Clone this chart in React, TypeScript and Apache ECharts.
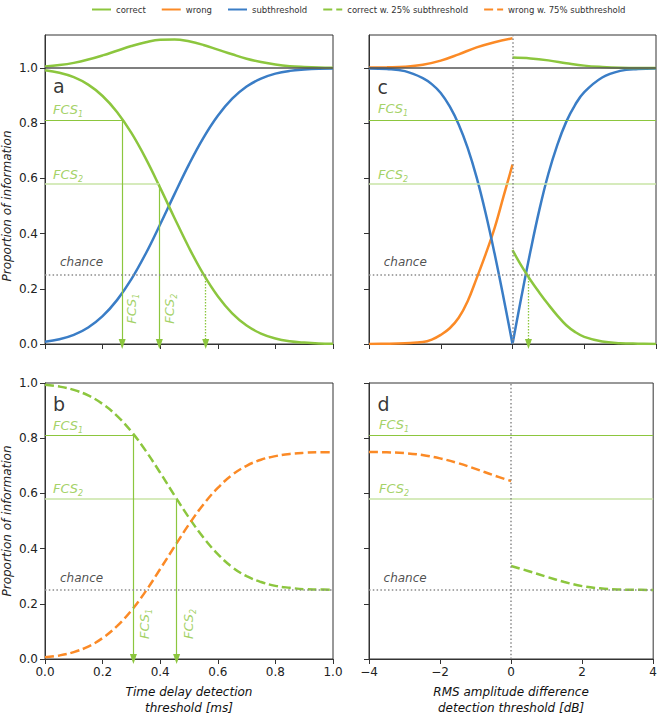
import React, { useEffect, useRef } from 'react';
import * as echarts from 'echarts';

// ---------- data ----------
const tA = [0, 0.05, 0.1, 0.15, 0.2, 0.25, 0.3, 0.35, 0.4, 0.45, 0.5, 0.55, 0.6, 0.65, 0.7, 0.75, 0.8, 0.85, 0.9, 0.95, 1.0];
const correctA = [0.992, 0.983, 0.967, 0.94, 0.899, 0.841, 0.765, 0.672, 0.566, 0.456, 0.349, 0.253, 0.173, 0.111, 0.067, 0.038, 0.02, 0.01, 0.005, 0.002, 0.001];
const subA = [0.008, 0.017, 0.033, 0.06, 0.101, 0.159, 0.235, 0.328, 0.434, 0.544, 0.651, 0.747, 0.827, 0.889, 0.933, 0.962, 0.98, 0.99, 0.995, 0.998, 0.999];
const totalA = [1.006, 1.011, 1.019, 1.031, 1.046, 1.063, 1.08, 1.094, 1.103, 1.104, 1.097, 1.084, 1.067, 1.05, 1.034, 1.022, 1.013, 1.007, 1.004, 1.002, 1.001];
const correct25B = [0.994, 0.987, 0.975, 0.955, 0.924, 0.881, 0.824, 0.754, 0.675, 0.592, 0.512, 0.44, 0.38, 0.333, 0.3, 0.279, 0.265, 0.258, 0.253, 0.252, 0.251];
const wrong75B = [0.006, 0.013, 0.025, 0.045, 0.076, 0.119, 0.176, 0.246, 0.326, 0.408, 0.488, 0.56, 0.62, 0.667, 0.7, 0.722, 0.735, 0.743, 0.747, 0.749, 0.749];

const xcLeft = [-4, -3.5, -3, -2.5, -2.25, -2, -1.75, -1.5, -1.25, -1, -0.75, -0.5, -0.25, 0];
const wrongC = [0, 0.001, 0.003, 0.007, 0.016, 0.033, 0.057, 0.095, 0.155, 0.238, 0.325, 0.42, 0.535, 0.65];
const subCLeft = [0.999, 0.997, 0.989, 0.964, 0.942, 0.91, 0.861, 0.796, 0.711, 0.604, 0.475, 0.328, 0.168, 0];
const xcRight = [0, 0.25, 0.5, 0.75, 1, 1.25, 1.5, 1.75, 2, 2.5, 3, 3.5, 4];
const subCRight = [0, 0.172, 0.336, 0.487, 0.617, 0.722, 0.806, 0.868, 0.913, 0.966, 0.99, 0.997, 0.999];
const correctC = [0.34, 0.283, 0.232, 0.186, 0.143, 0.103, 0.068, 0.043, 0.026, 0.009, 0.003, 0.001, 0];
const xcUpL = [-4, -3.5, -3, -2.5, -2, -1.5, -1, -0.5, 0];
const wrongTotalC = [1.002, 1.003, 1.005, 1.012, 1.027, 1.05, 1.075, 1.094, 1.108];
const xcUpR = [0, 0.5, 1, 1.5, 2, 2.5, 3, 3.5, 4];
const correctTotalC = [1.038, 1.035, 1.028, 1.018, 1.009, 1.004, 1.001, 1.0, 1.0];
const wrong75D = [0.75, 0.749, 0.746, 0.739, 0.727, 0.71, 0.689, 0.666, 0.645];
const correct25D = [0.337, 0.318, 0.298, 0.279, 0.264, 0.256, 0.252, 0.251, 0.25];

const fcsLevels = [0.81, 0.58];
const chanceLevel = 0.25;
const fcsA = [0.268, 0.397];
const chanceA = 0.558;
const fcsB = [0.307, 0.457];
const chanceC = 0.445;

const yTicks = [0, 0.2, 0.4, 0.6, 0.8, 1.0];
const legendNames = ['correct', 'wrong', 'subthreshold', 'correct w. 25% subthreshold', 'wrong w. 75% subthreshold'];

// ---------- styles ----------
const GREEN = '#8cc63e';
const GREEN_LIGHT = '#c8e4a6';
const ORANGE = '#fb8a26';
const BLUE = '#3a7dc6';
const GRAY = '#8a8a8a';
const FONT = 'DejaVu Sans';

const pairs = (xs: number[], ys: number[]) => xs.map((x, i) => [x, ys[i]]);

export default function App() {
  const ref = useRef<HTMLDivElement>(null);
  useEffect(() => {
    const chart = echarts.init(ref.current!, null, { renderer: 'svg' });

    const axisBase = (g: number) => ({
      type: 'value',
      gridIndex: g,
      axisLine: { show: true, onZero: false, lineStyle: { color: '#333', width: 1 } },
      axisTick: { show: true, inside: false, length: 5, lineStyle: { color: '#333', width: 1 } },
      splitLine: { show: false },
    });
    const lbl = { color: '#222', fontSize: 12, fontFamily: FONT, margin: 7 };
    const fmt1 = (v: number) => v.toFixed(1);
    const fmtC = (v: number) => (v < 0 ? '\u2212' + Math.abs(v) : String(v));

    const xAxis = [
      { ...axisBase(0), min: 0, max: 1, interval: 0.2, axisLabel: { show: false } },
      {
        ...axisBase(1), min: 0, max: 1, interval: 0.2, axisLabel: { ...lbl, formatter: fmt1 },
        name: 'Time delay detection\nthreshold [ms]', nameLocation: 'middle', nameGap: 25,
        nameTextStyle: { fontFamily: FONT, fontStyle: 'italic', fontSize: 12, color: '#111', lineHeight: 16 },
      },
      { ...axisBase(2), min: -4, max: 4, interval: 2, axisLabel: { show: false } },
      {
        ...axisBase(3), min: -4, max: 4, interval: 2, axisLabel: { ...lbl, formatter: fmtC },
        name: 'RMS amplitude difference\ndetection threshold [dB]', nameLocation: 'middle', nameGap: 25,
        nameTextStyle: { fontFamily: FONT, fontStyle: 'italic', fontSize: 12, color: '#111', lineHeight: 16 },
      },
    ];
    const yAxis = [
      { ...axisBase(0), min: 0, max: 1.12, interval: 0.2,
        axisTick: { ...axisBase(0).axisTick, customValues: yTicks },
        axisLabel: { ...lbl, formatter: fmt1, customValues: yTicks } },
      { ...axisBase(1), min: 0, max: 1, interval: 0.2, axisLabel: { ...lbl, formatter: fmt1 } },
      { ...axisBase(2), min: 0, max: 1.12, interval: 0.2,
        axisTick: { ...axisBase(2).axisTick, customValues: yTicks },
        axisLabel: { show: false } },
      { ...axisBase(3), min: 0, max: 1, interval: 0.2, axisLabel: { show: false } },
    ];

    const curve = (name: string, g: number, data: number[][], color: string, dashed = false) => ({
      type: 'line', name, xAxisIndex: g, yAxisIndex: g, data, symbol: 'none', showSymbol: false,
      smooth: 0.4, z: 4, silent: true,
      lineStyle: { color, width: 2.5, type: dashed ? [9, 4] : 'solid' },
      itemStyle: { color },
    });

    const chanceStyle = { color: GRAY, width: 1.5, type: [1.5, 2.3] };
    const arrowEnd = (x: number) => ({ coord: [x, 0], symbol: 'triangle', symbolSize: [7, 10], symbolOffset: [0, 0] });
    const fcsArrows = (xs: number[], chanceX: number | null) => {
      const d: any[] = [];
      xs.forEach((x, i) => {
        d.push([{ coord: [0, fcsLevels[i]], lineStyle: { color: i === 0 ? GREEN : GREEN_LIGHT, width: i === 0 ? 1 : 1.5, type: 'solid' } }, { coord: [x, fcsLevels[i]] }]);
      });
      xs.forEach((x, i) => {
        d.push([{ coord: [x, fcsLevels[i]], lineStyle: { color: GREEN, width: 1.2, type: 'solid' } }, arrowEnd(x)]);
      });
      if (chanceX !== null) {
        d.push([{ coord: [chanceX, chanceLevel], lineStyle: { color: GREEN, width: 1.3, type: [1.5, 1.5] } }, arrowEnd(chanceX)]);
      }
      return d;
    };

    const annot = (g: number, data: any[]) => ({
      type: 'line', xAxisIndex: g, yAxisIndex: g, data: [], z: 2, silent: true,
      markLine: {
        silent: true, symbol: 'none', animation: false, label: { show: false },
        emphasis: { disabled: true },
        itemStyle: { color: GREEN },
        data,
      },
    });

    const fcsFull = [
      { yAxis: fcsLevels[0], lineStyle: { color: GREEN, width: 1, type: 'solid' } },
      { yAxis: fcsLevels[1], lineStyle: { color: GREEN_LIGHT, width: 1.5, type: 'solid' } },
    ];
    const chanceLine = { yAxis: chanceLevel, lineStyle: chanceStyle };
    const oneLine = { yAxis: 1, lineStyle: { color: '#555', width: 1.5, type: 'solid' } };
    const zeroLine = { xAxis: 0, lineStyle: chanceStyle };

    const fcsRich = {
      m: { fontSize: 13, fontStyle: 'italic', fontFamily: FONT, color: GREEN, lineHeight: 18, verticalAlign: 'middle' },
      s: { fontSize: 8, fontStyle: 'italic', fontFamily: FONT, color: GREEN, lineHeight: 18, verticalAlign: 'bottom' },
    };
    const fcsTxt = (x: number, y: number, n: number, rotate = 0) => ({
      value: [x, y],
      label: {
        show: true, position: rotate ? 'inside' : 'right', distance: 0, rotate,
        formatter: `{m|FCS}{s|${n}}`, rich: fcsRich,
      },
    });
    const plainTxt = (x: number, y: number, text: string, size: number, italic: boolean, color: string) => ({
      value: [x, y],
      label: {
        show: true, position: 'right', distance: 0, formatter: text,
        fontSize: size, fontStyle: italic ? 'italic' : 'normal', fontFamily: FONT, color,
      },
    });
    const labels = (g: number, data: any[]) => ({
      type: 'scatter', xAxisIndex: g, yAxisIndex: g, symbolSize: 0, silent: true, z: 6,
      itemStyle: { color: 'transparent' }, data,
    });

    const series: any[] = [
      // panel a
      annot(0, [...fcsArrows(fcsA, chanceA), chanceLine, oneLine]),
      curve('subthreshold', 0, pairs(tA, subA), BLUE),
      curve('correct', 0, pairs(tA, correctA), GREEN),
      curve('correct', 0, pairs(tA, totalA), GREEN),
      labels(0, [
        plainTxt(0.028, 0.934, 'a', 19, false, '#000'),
        fcsTxt(0.028, 0.849, 1), fcsTxt(0.028, 0.615, 2),
        plainTxt(0.052, 0.297, 'chance', 12, true, '#222'),
        fcsTxt(fcsA[0] + 0.033, 0.128, 1, 90), fcsTxt(fcsA[1] + 0.037, 0.128, 2, 90),
      ]),
      // panel b
      annot(1, [...fcsArrows(fcsB, null), chanceLine]),
      curve('correct w. 25% subthreshold', 1, pairs(tA, correct25B), GREEN, true),
      curve('wrong w. 75% subthreshold', 1, pairs(tA, wrong75B), ORANGE, true),
      labels(1, [
        plainTxt(0.028, 0.923, 'b', 19, false, '#000'),
        fcsTxt(0.028, 0.846, 1), fcsTxt(0.028, 0.617, 2),
        plainTxt(0.052, 0.295, 'chance', 12, true, '#222'),
        fcsTxt(fcsB[0] + 0.04, 0.127, 1, 90), fcsTxt(fcsB[1] + 0.041, 0.127, 2, 90),
      ]),
      // panel c
      annot(2, [...fcsFull, chanceLine, oneLine, zeroLine,
        [{ coord: [chanceC, chanceLevel], lineStyle: { color: GREEN, width: 1.3, type: [1.5, 1.5] } }, arrowEnd(chanceC)]]),
      curve('wrong', 2, pairs(xcLeft, wrongC), ORANGE),
      curve('wrong', 2, pairs(xcUpL, wrongTotalC), ORANGE),
      curve('subthreshold', 2, pairs(xcLeft, subCLeft), BLUE),
      curve('subthreshold', 2, pairs(xcRight, subCRight), BLUE),
      curve('correct', 2, pairs(xcRight, correctC), GREEN),
      curve('correct', 2, pairs(xcUpR, correctTotalC), GREEN),
      labels(2, [
        plainTxt(-3.76, 0.93, 'c', 19, false, '#000'),
        fcsTxt(-3.75, 0.852, 1), fcsTxt(-3.75, 0.615, 2),
        plainTxt(-3.59, 0.297, 'chance', 12, true, '#222'),
      ]),
      // panel d
      annot(3, [...fcsFull, chanceLine, zeroLine]),
      curve('wrong w. 75% subthreshold', 3, pairs(xcUpL, wrong75D), ORANGE, true),
      curve('correct w. 25% subthreshold', 3, pairs(xcUpR, correct25D), GREEN, true),
      labels(3, [
        plainTxt(-3.76, 0.923, 'd', 19, false, '#000'),
        fcsTxt(-3.72, 0.849, 1), fcsTxt(-3.72, 0.617, 2),
        plainTxt(-3.59, 0.295, 'chance', 12, true, '#222'),
      ]),
    ];

    chart.setOption({
      animation: false,
      backgroundColor: '#fff',
      textStyle: { fontFamily: FONT },
      legend: {
        data: legendNames, left: 86, top: 0, itemWidth: 19, itemHeight: 10, itemGap: 15,
        itemStyle: { opacity: 0 },
        textStyle: { fontSize: 8.5, fontFamily: FONT, color: '#333' }, selectedMode: false,
      },
      grid: [
        { left: 45, top: 35, width: 288, height: 309, show: true, borderColor: '#333', borderWidth: 1, backgroundColor: 'transparent' },
        { left: 45, top: 383, width: 288, height: 277, show: true, borderColor: '#333', borderWidth: 1, backgroundColor: 'transparent' },
        { left: 369, top: 35, width: 287, height: 309, show: true, borderColor: '#333', borderWidth: 1, backgroundColor: 'transparent' },
        { left: 369, top: 383, width: 287, height: 277, show: true, borderColor: '#333', borderWidth: 1, backgroundColor: 'transparent' },
      ],
      xAxis, yAxis, series,
      graphic: [
        { type: 'text', x: 7, y: 206, rotation: Math.PI / 2,
          style: { text: 'Proportion of information', font: `italic 12px "${FONT}"`, fill: '#222', align: 'center', verticalAlign: 'middle' } },
        { type: 'text', x: 7, y: 521, rotation: Math.PI / 2,
          style: { text: 'Proportion of information', font: `italic 12px "${FONT}"`, fill: '#222', align: 'center', verticalAlign: 'middle' } },
      ],
    });
    return () => chart.dispose();
  }, []);
  return <div ref={ref} style={{ position: 'fixed', left: 0, top: 0, width: 660, height: 717 }} />;
}
